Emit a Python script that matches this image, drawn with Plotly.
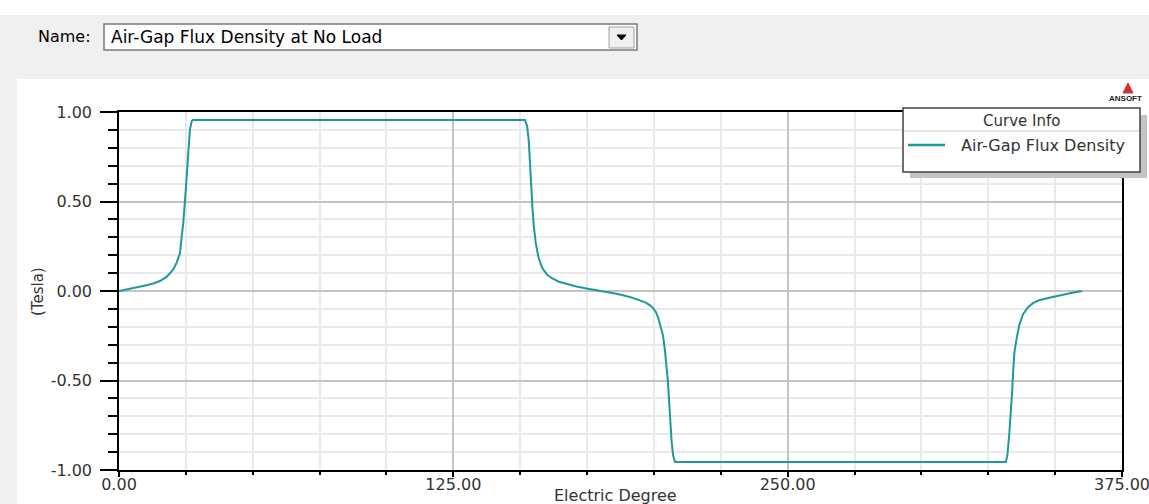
import plotly.graph_objects as go

# ---------------- data ----------------
electric_degree = [
    0.0, 2.9, 5.3, 7.8, 10.3, 12.8, 15.3, 17.8, 19.1, 20.3, 21.6, 22.8, 23.4, 24.0,
    24.7, 25.3, 25.9, 26.5, 27.2, 27.7,
    151.8, 152.6, 153.2, 153.6, 154.1, 154.6, 155.1, 155.8, 156.8, 158.2, 160.0,
    162.0, 164.5, 167.4, 171.0, 174.8, 178.5, 182.3, 186.5, 191.0, 194.8, 197.0,
    198.5, 199.8, 200.8, 201.6, 202.5, 203.4, 204.1, 204.7, 205.2, 205.7, 206.1,
    206.6, 207.2, 207.9,
    331.6, 332.2, 332.8, 333.4, 333.9, 334.3, 334.8, 335.6, 336.6, 338.0, 339.8,
    341.7, 344.0, 347.0, 351.8, 355.5, 360.0,
]
flux_density = [
    0.0, 0.008, 0.016, 0.023, 0.032, 0.042, 0.056, 0.079, 0.10, 0.12, 0.16, 0.21,
    0.30, 0.375, 0.51, 0.64, 0.78, 0.90, 0.95, 0.956,
    0.956, 0.92, 0.84, 0.72, 0.60, 0.46, 0.36, 0.27, 0.19, 0.13, 0.092,
    0.07, 0.052, 0.038, 0.025, 0.014, 0.004, -0.005, -0.017, -0.033, -0.052, -0.065,
    -0.08, -0.097, -0.12, -0.15, -0.20, -0.25, -0.33, -0.42, -0.50, -0.62, -0.73,
    -0.84, -0.92, -0.956,
    -0.956, -0.91, -0.81, -0.69, -0.57, -0.45, -0.34, -0.265, -0.19, -0.13, -0.092,
    -0.068, -0.052, -0.04, -0.023, -0.012, 0.0,
]
x_tick_values = [0, 125, 250, 375]
x_tick_labels = ["0.00", "125.00", "250.00", "375.00"]
y_tick_values = [-1.0, -0.5, 0.0, 0.5, 1.0]
y_tick_labels = ["-1.00", "-0.50", "0.00", "0.50", "1.00"]
series_name = "Air-Gap Flux Density"
report_name = "Air-Gap Flux Density at No Load"
x_title = "Electric Degree"
y_title = "(Tesla)"

# ---------------- layout helpers ----------------
W, H = 1149, 504
ML, MR, MT, MB = 119, 27, 112, 34
PW, PH = W - ML - MR, H - MT - MB


def px(x):
    return (x - ML) / PW


def py(y):
    return (H - MB - y) / PH


FONT = "DejaVu Sans"
TEAL = "#1f9999"
TXT = "#333333"

fig = go.Figure()
fig.add_trace(go.Scatter(
    x=electric_degree, y=flux_density, mode="lines", name=series_name,
    line=dict(color=TEAL, width=2), showlegend=False,
))

shapes = []
annotations = []

# window background pieces
shapes.append(dict(type="rect", xref="paper", yref="paper", x0=px(0), x1=px(W),
                   y0=py(79), y1=py(15), fillcolor="#f0f0f0", line=dict(width=0), layer="below"))
shapes.append(dict(type="rect", xref="paper", yref="paper", x0=px(0), x1=px(17),
                   y0=py(H), y1=py(79), fillcolor="#f0f0f0", line=dict(width=0), layer="below"))

# Name dropdown
shapes.append(dict(type="rect", xref="paper", yref="paper", x0=px(104), x1=px(637),
                   y0=py(50), y1=py(24), fillcolor="white", line=dict(color="#7a7a7a", width=1.5)))
shapes.append(dict(type="rect", xref="paper", yref="paper", x0=px(609), x1=px(634),
                   y0=py(48), y1=py(27), fillcolor="#f0f0f0", line=dict(color="#a0a0a0", width=1)))
shapes.append(dict(type="path", xref="paper", yref="paper",
                   path=f"M {px(617)} {py(35)} L {px(626)} {py(35)} L {px(621.5)} {py(40)} Z",
                   fillcolor="black", line=dict(color="black", width=1)))
annotations.append(dict(text="Name:", xref="paper", yref="paper", x=px(36), y=py(37),
                        xanchor="left", yanchor="middle", showarrow=False,
                        font=dict(family=FONT, size=16, color="black")))
annotations.append(dict(text=report_name, xref="paper", yref="paper", x=px(109), y=py(37),
                        xanchor="left", yanchor="middle", showarrow=False,
                        font=dict(family=FONT, size=17, color="black")))

# legend box with shadow
shapes.append(dict(type="rect", xref="paper", yref="paper", x0=px(910), x1=px(1147),
                   y0=py(178), y1=py(115), fillcolor="#c4c4c4", line=dict(width=0)))
shapes.append(dict(type="rect", xref="paper", yref="paper", x0=px(903), x1=px(1140),
                   y0=py(172), y1=py(108), fillcolor="white", line=dict(color="#404040", width=1.5)))
shapes.append(dict(type="line", xref="paper", yref="paper", x0=px(904), x1=px(1139),
                   y0=py(131), y1=py(131), line=dict(color="#c8c8c8", width=1)))
shapes.append(dict(type="line", xref="paper", yref="paper", x0=px(908), x1=px(945),
                   y0=py(145), y1=py(145), line=dict(color=TEAL, width=2.5)))
annotations.append(dict(text="Curve Info", xref="paper", yref="paper", x=px(1021.5), y=py(121),
                        xanchor="center", yanchor="middle", showarrow=False,
                        font=dict(family=FONT, size=15, color=TXT)))
annotations.append(dict(text=series_name, xref="paper", yref="paper", x=px(959), y=py(145),
                        xanchor="left", yanchor="middle", showarrow=False,
                        font=dict(family=FONT, size=16, color=TXT)))

# ANSOFT logo
shapes.append(dict(type="path", xref="paper", yref="paper",
                   path=(f"M {px(1123)} {py(93)} L {px(1128)} {py(83)} L {px(1133)} {py(93)} Z"),
                   fillcolor="#d03030", line=dict(color="#d03030", width=1)))
annotations.append(dict(text="<b>ANSOFT</b>", xref="paper", yref="paper", x=px(1107), y=py(98),
                        xanchor="left", yanchor="middle", showarrow=False,
                        font=dict(family="Liberation Sans", size=8, color="#222222")))

# axis titles
annotations.append(dict(text=x_title, xref="paper", yref="paper", x=px(615), y=py(495),
                        xanchor="center", yanchor="middle", showarrow=False,
                        font=dict(family=FONT, size=16, color=TXT)))
annotations.append(dict(text=y_title, xref="paper", yref="paper", x=px(38), y=py(292),
                        xanchor="center", yanchor="middle", showarrow=False, textangle=-90,
                        font=dict(family=FONT, size=15, color=TXT)))

fig.update_layout(
    width=W, height=H,
    margin=dict(l=ML, r=MR, t=MT, b=MB, autoexpand=False),
    paper_bgcolor="white", plot_bgcolor="white",
    shapes=shapes, annotations=annotations,
    showlegend=False,
)
fig.update_xaxes(
    range=[0, 375], tickmode="array", tickvals=x_tick_values, ticktext=x_tick_labels,
    showgrid=True, gridcolor="#c4c4c4", gridwidth=1.5,
    showline=True, linecolor="black", linewidth=1.5, mirror=True,
    ticks="outside", ticklen=5, tickcolor="black", tickwidth=1.5,
    tickfont=dict(family=FONT, size=16, color=TXT), ticklabelstandoff=-6,
    ticklabeloverflow="allow",
    zeroline=False, automargin=False,
    minor=dict(dtick=25, tick0=0, showgrid=True, gridcolor="#e9e9e9", gridwidth=1.5,
               ticks="outside", ticklen=3, tickcolor="black", tickwidth=1.5),
)
fig.update_yaxes(
    range=[-1, 1], tickmode="array", tickvals=y_tick_values, ticktext=y_tick_labels,
    showgrid=True, gridcolor="#c4c4c4", gridwidth=1.5,
    showline=True, linecolor="black", linewidth=1.5, mirror=True,
    ticks="outside", ticklen=17, tickcolor="black", tickwidth=1.5,
    tickfont=dict(family=FONT, size=16, color=TXT), ticklabelstandoff=5,
    ticklabeloverflow="allow",
    zeroline=False, automargin=False,
    minor=dict(dtick=0.1, tick0=0, showgrid=True, gridcolor="#e9e9e9", gridwidth=1.5,
               ticks="outside", ticklen=9, tickcolor="black", tickwidth=1.5),
)

fig.write_html(
    "out.html",
    config={"displayModeBar": False},
    post_script="document.body.style.margin='0px';document.body.style.overflow='hidden';",
)
